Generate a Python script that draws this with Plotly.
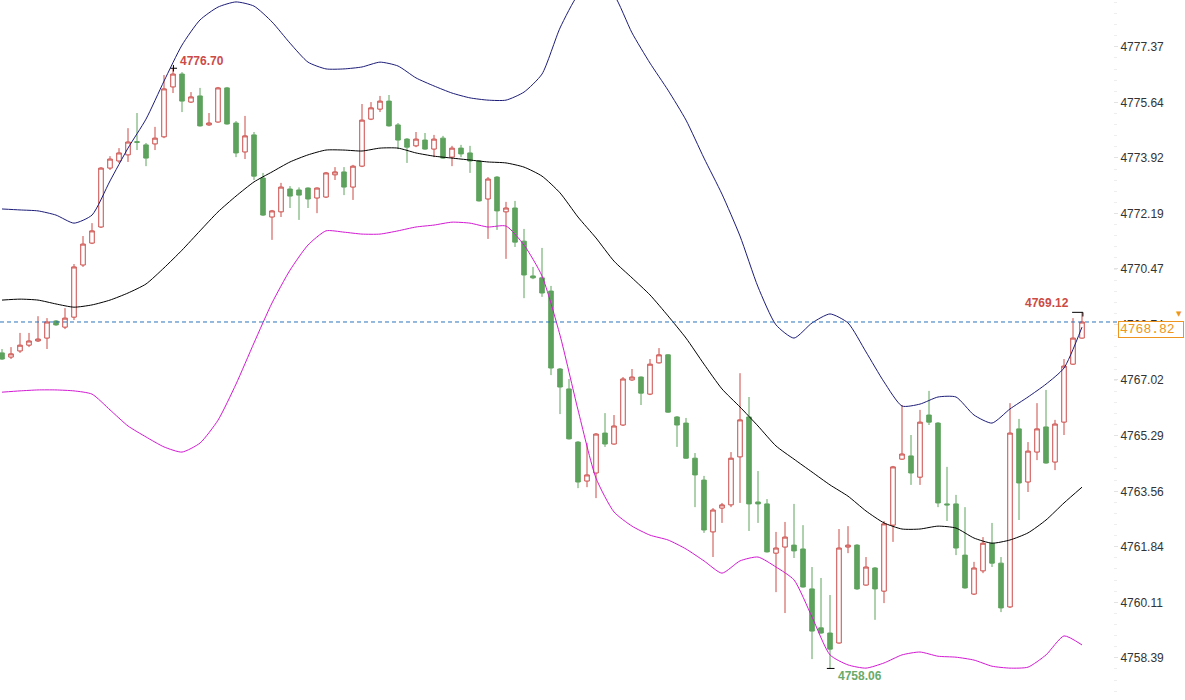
import plotly.graph_objects as go

# ---------------- data ----------------
opens = [4767.86, 4767.73, 4767.92, 4768.10, 4768.23, 4768.32, 4768.85, 4768.66, 4768.97, 4770.59,
         4771.27, 4771.77, 4773.60, 4773.82, 4774.01, 4774.42, 4774.32, 4774.35, 4774.57, 4776.12,
         4776.52, 4775.65, 4775.84, 4774.94, 4775.03, 4776.09, 4775.00, 4774.10, 4774.63, 4773.29,
         4772.08, 4772.24, 4772.95, 4772.92, 4772.98, 4772.67, 4772.70, 4773.39, 4773.48, 4773.01,
         4773.66, 4775.12, 4775.43, 4775.68, 4774.94, 4774.50, 4774.29, 4774.47, 4774.19, 4774.53,
         4773.94, 4774.22, 4774.07, 4773.82, 4772.64, 4773.32, 4772.24, 4772.36, 4771.33, 4770.25,
         4770.19, 4769.78, 4767.36, 4766.74, 4765.09, 4763.88, 4764.13, 4765.37, 4765.03, 4765.62,
         4767.02, 4767.11, 4766.58, 4767.55, 4767.80, 4765.87, 4765.68, 4764.59, 4763.91, 4762.30,
         4763.04, 4763.14, 4764.63, 4765.87, 4763.23, 4763.17, 4761.64, 4761.83, 4761.89, 4761.77,
         4760.53, 4759.32, 4759.16, 4758.85, 4761.83, 4761.89, 4760.65, 4761.18, 4760.46, 4762.51,
         4764.56, 4764.66, 4764.00, 4765.93, 4765.68, 4763.17, 4763.17, 4761.58, 4760.37, 4761.09,
         4761.95, 4761.33, 4759.97, 4765.50, 4763.85, 4764.78, 4765.56, 4764.47, 4765.71, 4767.51,
         4768.32]
highs = [4767.98, 4768.04, 4768.48, 4768.48, 4769.00, 4768.94, 4768.88, 4769.25, 4770.62, 4771.49,
         4771.89, 4773.63, 4773.97, 4774.22, 4774.84, 4775.31, 4774.38, 4774.88, 4776.49, 4776.70,
         4776.58, 4775.96, 4776.09, 4775.31, 4776.12, 4776.12, 4775.06, 4775.22, 4774.72, 4773.45,
         4772.30, 4773.14, 4773.04, 4773.00, 4773.00, 4773.00, 4773.48, 4773.63, 4773.63, 4773.70,
         4775.59, 4775.65, 4775.84, 4775.87, 4775.00, 4774.53, 4774.72, 4774.69, 4774.63, 4774.60,
         4774.29, 4774.32, 4774.29, 4773.85, 4773.32, 4773.35, 4772.55, 4772.58, 4771.71, 4770.53,
         4771.12, 4769.94, 4767.39, 4767.05, 4765.12, 4765.06, 4765.37, 4765.99, 4765.93, 4767.11,
         4767.36, 4767.13, 4767.67, 4768.01, 4767.82, 4765.90, 4765.84, 4764.75, 4764.04, 4763.04,
         4763.20, 4764.78, 4767.23, 4766.49, 4764.19, 4763.32, 4762.30, 4762.61, 4763.17, 4762.51,
         4761.21, 4760.87, 4760.34, 4762.39, 4762.48, 4761.92, 4761.52, 4761.21, 4762.64, 4764.35,
         4766.24, 4765.31, 4766.09, 4766.68, 4765.71, 4764.32, 4763.45, 4763.07, 4761.37, 4762.14,
         4762.58, 4761.52, 4766.30, 4765.81, 4765.09, 4766.30, 4766.71, 4765.78, 4767.67, 4768.94,
         4769.12]
lows = [4767.64, 4767.67, 4767.86, 4768.04, 4768.20, 4767.98, 4768.70, 4768.60, 4768.88, 4770.53,
        4771.24, 4771.74, 4773.54, 4773.76, 4773.79, 4774.16, 4773.66, 4774.16, 4774.53, 4775.93,
        4775.34, 4775.62, 4774.89, 4774.91, 4775.01, 4774.95, 4773.94, 4773.88, 4773.23, 4772.11,
        4771.37, 4772.08, 4772.36, 4771.99, 4772.36, 4772.20, 4772.67, 4773.23, 4772.76, 4772.61,
        4773.63, 4775.09, 4775.34, 4774.89, 4774.19, 4773.76, 4774.25, 4774.17, 4773.94, 4773.89,
        4773.66, 4773.94, 4773.45, 4772.56, 4771.40, 4771.68, 4770.78, 4771.15, 4769.56, 4770.15,
        4769.60, 4767.17, 4765.96, 4765.17, 4763.66, 4763.69, 4763.35, 4764.94, 4765.01, 4765.59,
        4766.99, 4766.24, 4766.55, 4767.53, 4766.00, 4764.94, 4764.57, 4763.07, 4762.27, 4761.52,
        4762.58, 4763.07, 4763.20, 4762.33, 4762.58, 4761.66, 4760.43, 4759.78, 4761.49, 4760.57,
        4758.35, 4759.14, 4758.06, 4758.83, 4761.64, 4760.50, 4760.63, 4759.57, 4760.09, 4761.99,
        4764.54, 4763.76, 4763.76, 4765.62, 4763.07, 4762.64, 4761.58, 4760.54, 4760.34, 4761.02,
        4761.21, 4759.81, 4759.94, 4762.67, 4763.54, 4764.53, 4764.42, 4764.22, 4765.31, 4767.49,
        4768.30]
closes = [4767.67, 4767.83, 4768.10, 4768.23, 4768.29, 4768.82, 4768.73, 4768.94, 4770.53, 4771.24,
          4771.65, 4773.60, 4773.88, 4774.07, 4774.41, 4774.40, 4773.91, 4774.53, 4776.06, 4776.52,
          4775.68, 4775.81, 4774.91, 4775.00, 4776.09, 4774.97, 4774.07, 4774.60, 4773.35, 4772.14,
          4772.27, 4773.01, 4772.73, 4772.76, 4772.64, 4772.98, 4773.45, 4773.48, 4773.01, 4773.66,
          4775.09, 4775.47, 4775.68, 4774.91, 4774.47, 4774.25, 4774.50, 4774.19, 4774.50, 4773.91,
          4774.22, 4774.04, 4773.82, 4772.58, 4773.26, 4772.27, 4772.36, 4771.30, 4770.28, 4770.19,
          4769.72, 4767.39, 4766.80, 4765.19, 4763.85, 4764.07, 4765.34, 4765.03, 4765.59, 4767.05,
          4767.11, 4766.61, 4767.51, 4767.80, 4766.02, 4765.62, 4764.59, 4764.07, 4762.36, 4762.98,
          4763.14, 4764.59, 4765.78, 4763.17, 4763.17, 4761.68, 4761.80, 4762.14, 4761.71, 4760.59,
          4759.22, 4759.16, 4758.66, 4761.80, 4761.89, 4760.53, 4761.21, 4760.53, 4762.55, 4764.32,
          4764.72, 4764.13, 4765.71, 4765.71, 4763.20, 4763.14, 4761.80, 4760.56, 4761.18, 4761.95,
          4761.33, 4759.94, 4765.37, 4763.82, 4764.81, 4765.50, 4764.44, 4765.65, 4767.45, 4768.32,
          4768.82]
bar_index = list(range(len(closes)))

# Bollinger bands, read every second bar
band_index = list(range(0, 121, 2))
upper_band = [4772.33, 4772.30, 4772.27, 4772.14, 4771.89, 4772.14, 4773.20, 4774.22, 4775.12, 4776.30,
              4777.42, 4778.20, 4778.60, 4778.76, 4778.63, 4778.14, 4777.48, 4776.89, 4776.68, 4776.68,
              4776.74, 4776.89, 4776.77, 4776.40, 4776.15, 4775.93, 4775.78, 4775.71, 4775.71, 4775.96,
              4776.52, 4777.95, 4778.98, 4779.44, 4778.98, 4777.80, 4776.86, 4776.02, 4775.09, 4773.91,
              4772.79, 4771.49, 4769.91, 4768.73, 4768.32, 4768.79, 4769.07, 4768.79, 4767.89, 4766.96,
              4766.21, 4766.27, 4766.49, 4766.49, 4765.93, 4765.68, 4766.12, 4766.49, 4766.89, 4767.39,
              4768.66]
middle_band = [4769.50, 4769.53, 4769.50, 4769.38, 4769.28, 4769.35, 4769.50, 4769.72, 4770.00, 4770.50,
               4771.05, 4771.65, 4772.24, 4772.73, 4773.17, 4773.48, 4773.79, 4774.01, 4774.16, 4774.16,
               4774.13, 4774.22, 4774.22, 4774.07, 4773.97, 4773.91, 4773.85, 4773.79, 4773.76, 4773.63,
               4773.35, 4772.83, 4772.08, 4771.43, 4770.71, 4770.19, 4769.66, 4769.01, 4768.32, 4767.51,
               4766.74, 4766.18, 4765.59, 4764.97, 4764.56, 4764.16, 4763.76, 4763.41, 4762.95, 4762.58,
               4762.39, 4762.39, 4762.48, 4762.42, 4762.11, 4761.95, 4762.05, 4762.27, 4762.67, 4763.20,
               4763.69]
lower_band = [4766.64, 4766.68, 4766.71, 4766.71, 4766.68, 4766.58, 4766.09, 4765.59, 4765.25, 4764.94,
              4764.78, 4765.06, 4765.77, 4766.89, 4768.17, 4769.41, 4770.43, 4771.21, 4771.65, 4771.61,
              4771.55, 4771.55, 4771.65, 4771.77, 4771.83, 4771.92, 4771.89, 4771.77, 4771.80, 4771.21,
              4770.25, 4768.41, 4766.09, 4763.97, 4762.92, 4762.48, 4762.20, 4762.05, 4761.77, 4761.40,
              4761.02, 4761.40, 4761.52, 4761.21, 4760.81, 4759.66, 4758.48, 4758.17, 4758.07, 4758.23,
              4758.48, 4758.57, 4758.44, 4758.41, 4758.32, 4758.13, 4758.07, 4758.10, 4758.48, 4759.07,
              4758.79]

ytick_vals = [4777.37, 4775.64, 4773.92, 4772.19, 4770.47, 4768.74,
              4767.02, 4765.29, 4763.56, 4761.84, 4760.11, 4758.39]
ytick_text = ["%.2f" % v for v in ytick_vals]

last_price = 4768.82
max_idx, max_val = 19, 4776.70
min_idx, min_val = 92, 4758.06
last_high_idx, last_high_val = 120, 4769.12

# ---------------- styling ----------------
RED = "#CB4B47"
GREEN = "#5DA25D"
ORANGE = "#EE9420"

fig = go.Figure()

fig.add_trace(go.Scatter(x=band_index, y=upper_band, mode="lines",
                         line=dict(color="#1C1C78", width=1, shape="spline", smoothing=0.6),
                         hoverinfo="skip"))
fig.add_trace(go.Scatter(x=band_index, y=middle_band, mode="lines",
                         line=dict(color="#000000", width=1, shape="spline", smoothing=0.6),
                         hoverinfo="skip"))
fig.add_trace(go.Scatter(x=band_index, y=lower_band, mode="lines",
                         line=dict(color="#D21AD2", width=1, shape="spline", smoothing=0.6),
                         hoverinfo="skip"))

fig.add_trace(go.Candlestick(
    x=bar_index, open=opens, high=highs, low=lows, close=closes,
    increasing=dict(line=dict(color=RED, width=1), fillcolor="#FFFFFF"),
    decreasing=dict(line=dict(color=GREEN, width=1), fillcolor=GREEN),
    whiskerwidth=0, hoverinfo="skip"))

shapes = [
    dict(type="line", xref="paper", yref="y", x0=0, x1=1.0045, y0=last_price, y1=last_price,
         line=dict(color="#2C74BC", width=1, dash="4px,3px"), layer="above"),
    dict(type="line", xref="x", yref="y", x0=max_idx - 0.3, x1=max_idx + 0.45,
         y0=max_val, y1=max_val, line=dict(color="#000000", width=1)),
    dict(type="line", xref="x", yref="y", x0=max_idx + 0.05, x1=max_idx + 0.05,
         y0=max_val - 0.1, y1=max_val + 0.1, line=dict(color="#000000", width=1)),
    dict(type="line", xref="x", yref="y", x0=min_idx - 0.35, x1=min_idx + 0.5,
         y0=min_val, y1=min_val, line=dict(color="#000000", width=1)),
    dict(type="line", xref="x", yref="y", x0=last_high_idx - 1.1, x1=last_high_idx + 0.1,
         y0=last_high_val, y1=last_high_val, line=dict(color="#000000", width=1)),
    dict(type="line", xref="x", yref="y", x0=last_high_idx + 0.1, x1=last_high_idx + 0.1,
         y0=last_high_val, y1=last_high_val - 0.13, line=dict(color="#000000", width=1)),
]

lab_font = dict(family="Arial, Liberation Sans", size=12, color=RED)
annotations = [
    dict(x=max_idx, y=max_val, xref="x", yref="y", text="<b>%.2f</b>" % max_val,
         showarrow=False, xanchor="left", yanchor="middle", xshift=5, yshift=7, font=lab_font),
    dict(x=min_idx, y=min_val, xref="x", yref="y", text="<b>%.2f</b>" % min_val,
         showarrow=False, xanchor="left", yanchor="middle", xshift=6, yshift=-8,
         font=dict(family="Arial, Liberation Sans", size=12, color="#6AAA6A")),
    dict(x=last_high_idx, y=last_high_val, xref="x", yref="y", text="<b>%.2f</b>" % last_high_val,
         showarrow=False, xanchor="right", yanchor="middle", xshift=-11, yshift=9, font=lab_font),
    dict(x=1118 / 1113, y=last_price, xref="paper", yref="y", text="%.2f" % last_price,
         showarrow=False, xanchor="left", yanchor="top", yshift=1, width=62, height=13,
         align="left", bgcolor="#FFFFFF", bordercolor=ORANGE, borderwidth=1, borderpad=1,
         font=dict(family="Liberation Mono, DejaVu Sans Mono", size=13, color=ORANGE)),
    dict(x=1179 / 1113, y=last_price, xref="paper", yref="y", text="▼",
         showarrow=False, xanchor="center", yanchor="bottom", yshift=2,
         font=dict(family="DejaVu Sans", size=7, color=ORANGE)),
]

fig.update_layout(
    width=1185, height=700,
    margin=dict(l=0, r=72, t=0, b=0),
    paper_bgcolor="#FFFFFF", plot_bgcolor="#FFFFFF",
    showlegend=False, hovermode=False, boxgap=0.28,
    shapes=shapes, annotations=annotations,
    xaxis=dict(visible=False, range=[-2 / 9, 1111 / 9], rangeslider=dict(visible=False),
               fixedrange=True),
    yaxis=dict(side="right", range=[4757.08, 4778.82], tickmode="array",
               tickvals=ytick_vals, ticktext=ytick_text, showgrid=False, zeroline=False,
               showline=False, ticks="outside", ticklen=4, tickcolor="#E2E2E2",
               tickfont=dict(family="Arial, Liberation Sans", size=12, color="#333333"),
               minor=dict(tickmode="linear", tick0=4758.39, dtick=0.345, ticks="outside",
                          ticklen=3, tickcolor="#EEEEEE"),
               fixedrange=True),
)

fig.write_html("out.html", config={"displayModeBar": False, "staticPlot": True},
               post_script="document.body.style.margin='0';document.body.style.overflow='hidden';")
